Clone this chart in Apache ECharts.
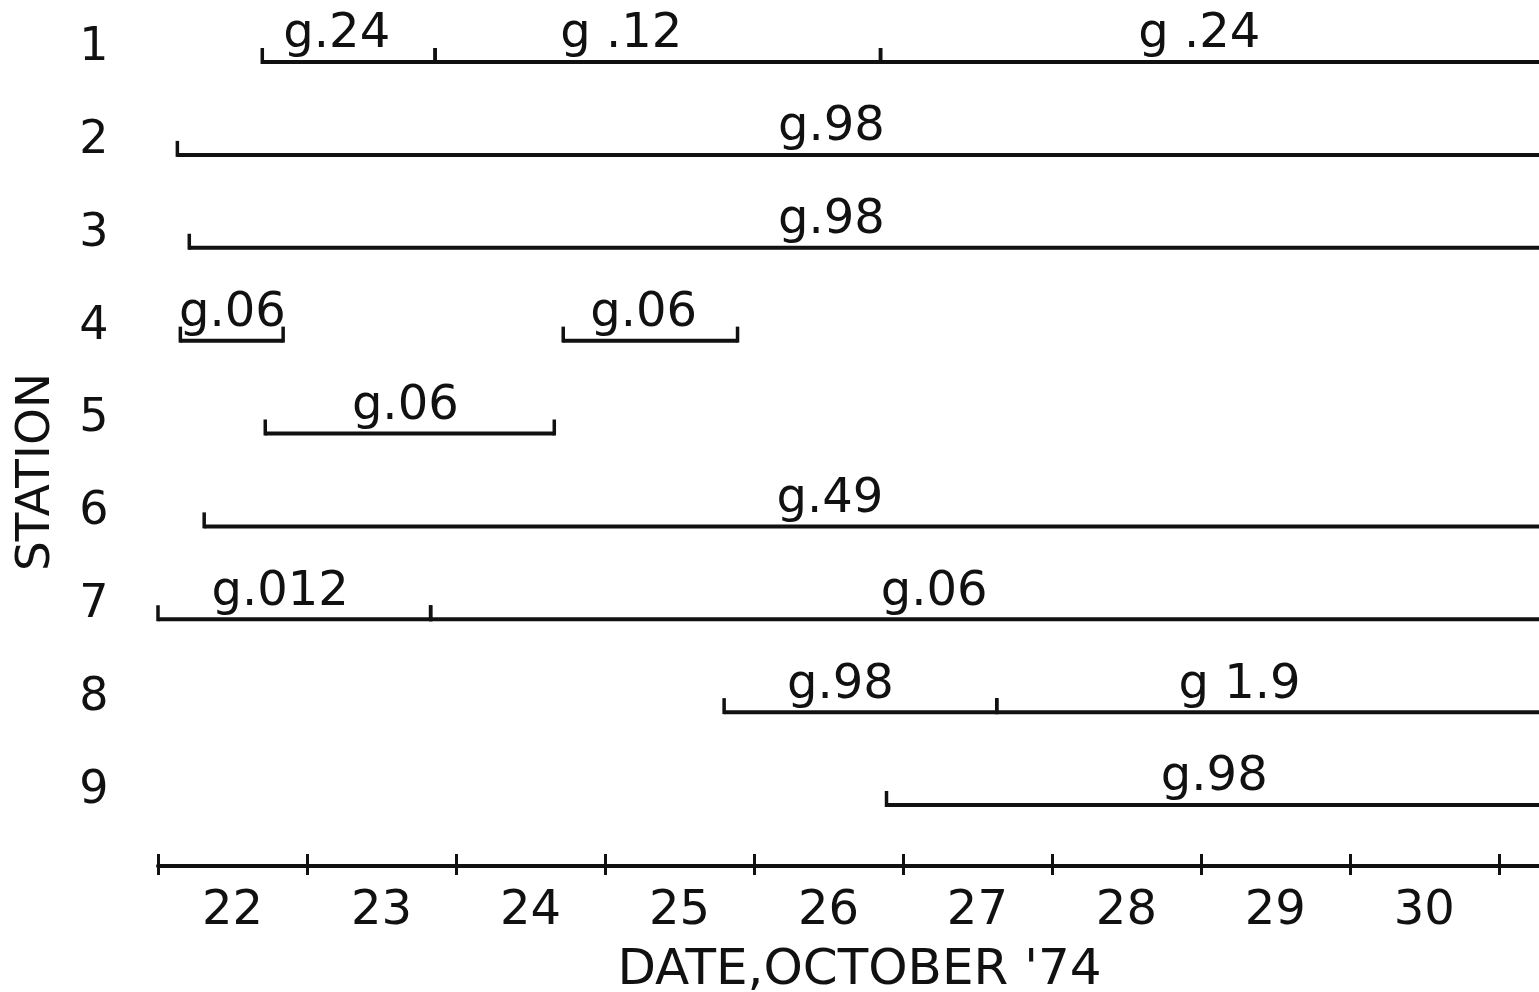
<!DOCTYPE html>
<html>
<head>
<meta charset="utf-8">
<script src="https://cdn.jsdelivr.net/npm/echarts@6/dist/echarts.min.js"></script>
<style>html,body{margin:0;padding:0;background:#fff}#c{width:1539px;height:992px}</style>
</head>
<body>
<div id="c"></div>
<script>
// ---- data ----
const stations = [1, 2, 3, 4, 5, 6, 7, 8, 9];
const dayTicks = [22, 23, 24, 25, 26, 27, 28, 29, 30];
const axisEnd = 31.31; // record continues past the right edge
const segStation = [1, 1, 1, 2, 3, 4, 4, 5, 6, 7, 7, 8, 8, 9];
const segStart   = [22.70, 23.86, 26.85, 22.13, 22.21, 22.15, 24.72, 22.72, 22.31, 22.00, 23.83, 25.80, 27.63, 26.89];
const segEnd     = [23.86, 26.85, axisEnd, axisEnd, axisEnd, 22.84, 25.89, 24.66, axisEnd, 23.83, axisEnd, 27.63, axisEnd, axisEnd];
const segLabel   = ['g.24', 'g .12', 'g .24', 'g.98', 'g.98', 'g.06', 'g.06', 'g.06', 'g.49', 'g.012', 'g.06', 'g.98', 'g 1.9', 'g.98'];
const segLabelAt = [23.20, 25.11, 28.99, 26.52, 26.52, 22.50, 25.26, 23.66, 26.51, 22.82, 27.21, 26.58, 29.26, 29.09];

const FONT = '"DejaVu Sans", sans-serif';
const INK = '#111';

const segData = segStation.map((s, i) => [segStart[i], segEnd[i], s, segLabelAt[i], i]);

const chart = echarts.init(document.getElementById('c'));
chart.setOption({
  backgroundColor: '#fff',
  animation: false,
  grid: { left: 158, right: -6, top: 62, bottom: 187, containLabel: false, outerBoundsMode: 'none' },
  xAxis: [{
    type: 'value', position: 'bottom', offset: 61,
    min: 22, max: axisEnd, interval: 1,
    axisLine: { show: true, lineStyle: { color: INK, width: 4 } },
    axisTick: { show: true, inside: true, length: 12, lineStyle: { color: INK, width: 3 } },
    splitLine: { show: false },
    axisLabel: {
      show: true, margin: 22, color: INK, fontFamily: FONT, fontSize: 48,
      align: 'center', padding: [0, 0, 0, 149],
      formatter: v => (dayTicks.indexOf(v) >= 0 ? String(v) : '')
    },
    name: "DATE,OCTOBER '74", nameLocation: 'middle', nameGap: 80,
    nameTextStyle: { color: INK, fontFamily: FONT, fontSize: 50, padding: [0, 0, 0, 16] }
  }, {
    type: 'value', position: 'bottom', offset: 61,
    min: 22, max: axisEnd, interval: 1,
    axisLine: { show: false },
    axisTick: { show: true, inside: false, length: 9, lineStyle: { color: INK, width: 3 } },
    axisLabel: { show: false }, splitLine: { show: false }
  }],
  yAxis: {
    type: 'value', inverse: true, min: 1, max: 9, interval: 1,
    axisLine: { show: false }, axisTick: { show: false }, splitLine: { show: false },
    axisLabel: {
      color: INK, fontFamily: FONT, fontSize: 46, margin: 64, align: 'center',
      verticalAlign: 'bottom', lineHeight: 28
    }
  },
  graphic: [{
    type: 'text', x: 37, y: 472, rotation: Math.PI / 2,
    style: { text: 'STATION', fill: INK, font: '47px ' + FONT, textAlign: 'center', textVerticalAlign: 'middle' }
  }],
  series: [{
    type: 'custom',
    xAxisIndex: 0,
    data: segData,
    renderItem: function (params, api) {
      const a = api.coord([api.value(0), api.value(2)]);
      const b = api.coord([api.value(1), api.value(2)]);
      const lab = api.coord([api.value(3), api.value(2)]);
      const idx = api.value(4);
      const tickH = 14;
      const children = [{
        type: 'line',
        shape: { x1: a[0], y1: a[1], x2: b[0], y2: b[1] },
        style: { stroke: INK, lineWidth: 4 }
      }, {
        type: 'line',
        shape: { x1: a[0], y1: a[1] + 2, x2: a[0], y2: a[1] - tickH },
        style: { stroke: INK, lineWidth: 3.5 }
      }];
      if (api.value(1) < axisEnd) {
        children.push({
          type: 'line',
          shape: { x1: b[0], y1: b[1] + 2, x2: b[0], y2: b[1] - tickH },
          style: { stroke: INK, lineWidth: 3.5 }
        });
      }
      children.push({
        type: 'text',
        x: lab[0], y: lab[1] - 3,
        style: { text: segLabel[idx], fill: INK, font: '48px ' + FONT, textAlign: 'center', textVerticalAlign: 'bottom' }
      });
      return { type: 'group', children: children };
    }
  }]
});
</script>
</body>
</html>
